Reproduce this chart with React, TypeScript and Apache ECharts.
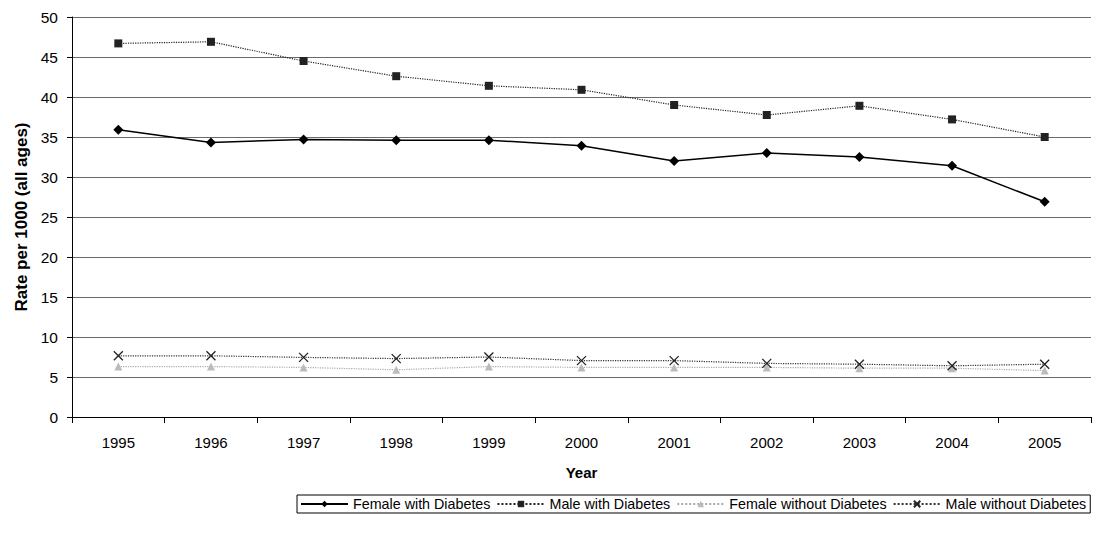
import React, { useEffect, useRef } from "react";
import * as echarts from "echarts";

const years = ["1995", "1996", "1997", "1998", "1999", "2000", "2001", "2002", "2003", "2004", "2005"];
const femaleWithDiabetes = [35.9, 34.3, 34.7, 34.6, 34.6, 33.9, 32.0, 33.0, 32.5, 31.4, 26.9];
const maleWithDiabetes = [46.7, 46.9, 44.5, 42.6, 41.4, 40.9, 39.0, 37.75, 38.9, 37.2, 35.0];
const femaleWithoutDiabetes = [6.3, 6.3, 6.2, 5.9, 6.3, 6.2, 6.2, 6.2, 6.1, 6.1, 5.8];
const maleWithoutDiabetes = [7.65, 7.65, 7.45, 7.3, 7.5, 7.05, 7.05, 6.7, 6.6, 6.4, 6.6];

const FONT = "'Liberation Sans', Arial, sans-serif";
const X_SYMBOL = "path://M0,0L10,10M10,0L0,10";

export default function App() {
  const ref = useRef<HTMLDivElement>(null);
  useEffect(() => {
    document.body.style.margin = "0";
    const chart = echarts.init(ref.current!, null, { renderer: "svg" });
    chart.setOption({
      animation: false,
      backgroundColor: "#fff",
      textStyle: { fontFamily: FONT },
      grid: { left: 72, right: 5, top: 17, bottom: 118, containLabel: false },
      legend: {
        left: 297,
        top: 495,
        orient: "horizontal",
        borderColor: "#000",
        borderWidth: 1,
        padding: [2, 4, 2, 3],
        itemGap: 6,
        itemWidth: 47,
        itemHeight: 8,
        textStyle: { fontSize: 14.3, color: "#000", fontFamily: FONT },
        data: [
          "Female with Diabetes",
          "Male with Diabetes",
          "Female without Diabetes",
          "Male without Diabetes",
        ],
      },
      xAxis: {
        type: "category",
        data: years,
        boundaryGap: true,
        name: "Year",
        nameLocation: "middle",
        nameGap: 48,
        nameTextStyle: { fontWeight: "bold", fontSize: 15, color: "#000", fontFamily: FONT },
        axisLine: { lineStyle: { color: "#000", width: 1 } },
        axisTick: { show: true, length: 6, lineStyle: { color: "#000" } },
        axisLabel: { fontSize: 15, color: "#000", margin: 18, fontFamily: FONT },
        splitLine: { show: false },
      },
      yAxis: {
        type: "value",
        min: 0,
        max: 50,
        interval: 5,
        name: "Rate per 1000 (all ages)",
        nameLocation: "middle",
        nameGap: 42,
        nameRotate: 90,
        nameTextStyle: { fontWeight: "bold", fontSize: 17, color: "#000", fontFamily: FONT },
        axisLine: { show: true, lineStyle: { color: "#000", width: 1 } },
        axisTick: { show: true, length: 5, lineStyle: { color: "#000" } },
        axisLabel: { fontSize: 15.5, color: "#000", margin: 14, fontFamily: FONT },
        splitLine: { show: true, lineStyle: { color: "#6a6a6a", width: 1 } },
      },
      series: [
        {
          name: "Female with Diabetes",
          type: "line",
          data: femaleWithDiabetes,
          symbol: "diamond",
          symbolSize: 10,
          lineStyle: { color: "#000", width: 1.5, type: "solid" },
          itemStyle: { color: "#000" },
        },
        {
          name: "Male with Diabetes",
          type: "line",
          data: maleWithDiabetes,
          symbol: "rect",
          symbolSize: 8,
          lineStyle: { color: "#222", width: 1.2, type: "dotted" },
          itemStyle: { color: "#222" },
        },
        {
          name: "Female without Diabetes",
          type: "line",
          data: femaleWithoutDiabetes,
          symbol: "triangle",
          symbolSize: 8,
          lineStyle: { color: "#aaa", width: 1.2, type: "dotted" },
          itemStyle: { color: "#bbb" },
        },
        {
          name: "Male without Diabetes",
          type: "line",
          data: maleWithoutDiabetes,
          symbol: X_SYMBOL,
          symbolSize: 9,
          lineStyle: { color: "#333", width: 1.2, type: "dotted" },
          itemStyle: { color: "transparent", borderColor: "#222", borderWidth: 1.3 },
        },
      ],
    });
    return () => chart.dispose();
  }, []);
  return (
    <div
      ref={ref}
      style={{ position: "absolute", left: 0, top: 0, width: 1096, height: 535 }}
    />
  );
}
